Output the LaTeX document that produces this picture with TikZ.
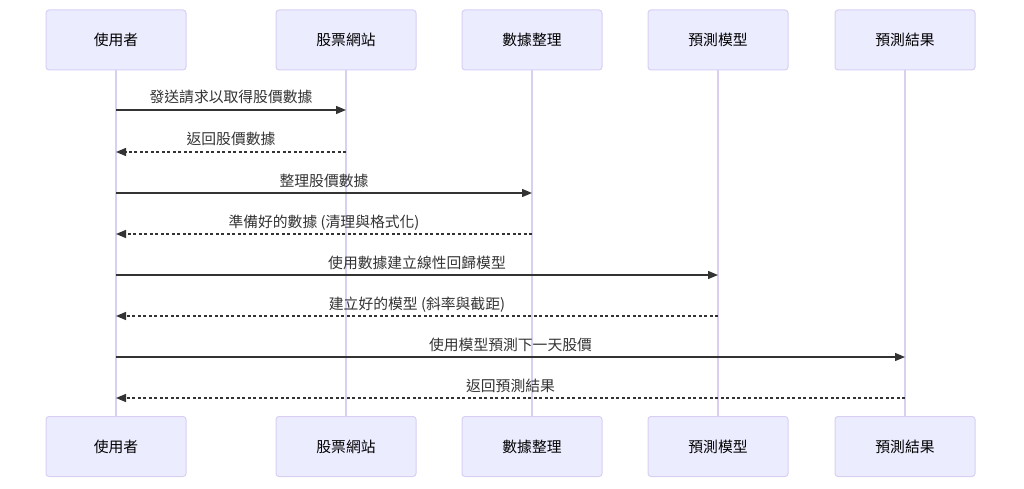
\documentclass[tikz,border=0pt]{standalone}
\usepackage{fontspec}
\setmainfont{Noto Sans CJK TC}
\usetikzlibrary{arrows.meta}
\definecolor{actfill}{HTML}{ECECFF}
\definecolor{actline}{HTML}{D8CFF3}
\definecolor{msgline}{HTML}{333333}
\tikzset{
  actor/.style={draw=actline, fill=actfill, line width=1pt, rounded corners=3pt,
    minimum width=140pt, minimum height=60pt, inner sep=0pt, font=\fontsize{14.8}{17}\selectfont, text=black},
  life/.style={draw=actline, line width=1.2pt},
  msg/.style={draw=msgline, line width=1.3pt, -{Triangle[length=10pt,width=8pt]}},
  reply/.style={msg, dash pattern=on 3pt off 2.5pt},
  lbl/.style={font=\fontsize{14.8}{17}\selectfont, text=msgline, inner sep=0pt, anchor=base, yshift=7pt}
}
\begin{document}
\begin{tikzpicture}[x=1pt,y=-1pt]
\useasboundingbox (0,0) rectangle (1024,489);
% lifeline ends
\foreach \n/\x in {a/116,b/346,c/532,d/718,e/905}{
  \coordinate (\n T) at (\x,70);
  \coordinate (\n B) at (\x,416);
}
\foreach \n in {a,b,c,d,e}{ \draw[life] (\n T) -- (\n B); }
% actors
\node[actor] (a1) at (116,40) {使用者};
\node[actor] (b1) at (346,40) {股票網站};
\node[actor] (c1) at (532,40) {數據整理};
\node[actor] (d1) at (718,40) {預測模型};
\node[actor] (e1) at (905,40) {預測結果};
\node[actor] (a2) at (116,446.5) {使用者};
\node[actor] (b2) at (346,446.5) {股票網站};
\node[actor] (c2) at (532,446.5) {數據整理};
\node[actor] (d2) at (718,446.5) {預測模型};
\node[actor] (e2) at (905,446.5) {預測結果};
% message endpoints
\foreach \i/\y in {1/110,2/152,3/193,4/234,5/275,6/316,7/357,8/398}{
  \foreach \n/\x in {a/116,b/346,c/532,d/718,e/905}{
    \coordinate (m\n\i) at (\x,\y);
  }
}
\draw[msg] (ma1) -- (mb1) node[lbl, pos=0.5] {發送請求以取得股價數據};
\draw[reply] (mb2) -- (ma2) node[lbl, pos=0.5] {返回股價數據};
\draw[msg] (ma3) -- (mc3) node[lbl, pos=0.5] {整理股價數據};
\draw[reply] (mc4) -- (ma4) node[lbl, pos=0.5] {準備好的數據 (清理與格式化)};
\draw[msg] (ma5) -- (md5) node[lbl, pos=0.5] {使用數據建立線性回歸模型};
\draw[reply] (md6) -- (ma6) node[lbl, pos=0.5] {建立好的模型 (斜率與截距)};
\draw[msg] (ma7) -- (me7) node[lbl, pos=0.5] {使用模型預測下一天股價};
\draw[reply] (me8) -- (ma8) node[lbl, pos=0.5] {返回預測結果};
\end{tikzpicture}
\end{document}
